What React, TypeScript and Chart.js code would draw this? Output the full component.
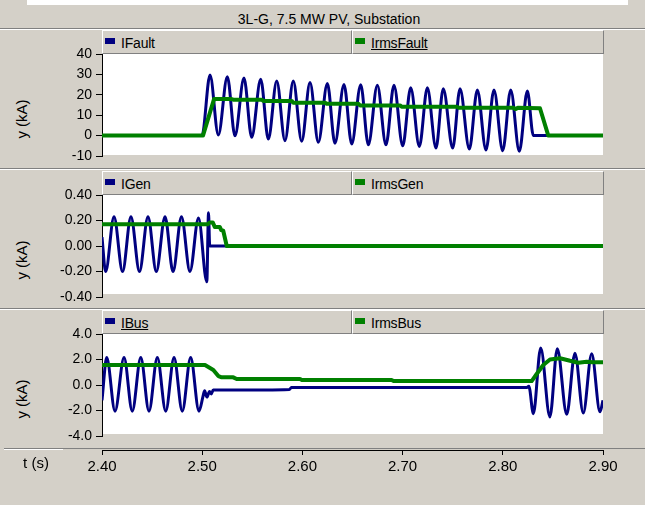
import React, { useEffect, useRef } from "react";
import { Chart, registerables } from "chart.js";

Chart.register(...registerables);

const FONT = '"Liberation Sans", Arial, Helvetica, sans-serif';
const GRAY = "#d4d0c8";
const DARK = "#808080";
const BLUE = "#000080";
const GREEN = "#008000";

const chartTitle = "3L-G, 7.5 MW PV, Substation";
const xAxisTitle = "t (s)";
const yAxisTitle = "y (kA)";
const xMin = 2.4;
const xMax = 2.9;
const xStep = 0.1;

// ---- Panel 1: fault current ----
const iFaultLabel = "IFault";
const irmsFaultLabel = "IrmsFault";
const faultYMin = -10;
const faultYMax = 40;
const faultYStep = 10;
const iFaultT = [2.4, 2.4998, 2.5078, 2.5161, 2.5251, 2.5327, 2.5417, 2.5494, 2.5584, 2.566, 2.5744, 2.5826, 2.5909, 2.5993, 2.6076, 2.6159, 2.6249, 2.6325, 2.6415, 2.6492, 2.6582, 2.6658, 2.6748, 2.6834, 2.6914, 2.7001, 2.7081, 2.7167, 2.7247, 2.7333, 2.7406, 2.75, 2.7573, 2.7666, 2.7746, 2.7832, 2.7912, 2.7999, 2.8079, 2.8165, 2.8245, 2.8305, 2.9];
const iFaultV = [0, 0, 29.7, 0.3, 28.9, -0.1, 28.2, -0.8, 27.6, -1.7, 26.8, -2.5, 26.8, -2.8, 26.0, -3.3, 25.6, -3.8, 25.1, -4.1, 24.9, -4.5, 24.7, -4.5, 24.7, -5.0, 23.5, -5.4, 23.5, -6.1, 23.0, -6.1, 23.0, -6.6, 22.4, -7.1, 22.4, -7.4, 22.4, -7.7, 21.9, 0, 0];
const irmsFaultT = [2.4, 2.5008, 2.5118, 2.5294, 2.531, 2.5594, 2.561, 2.5893, 2.5909, 2.6226, 2.6243, 2.6558, 2.6575, 2.6974, 2.699, 2.754, 2.7556, 2.8105, 2.8125, 2.815, 2.8371, 2.8454, 2.9];
const irmsFaultV = [0, 0, 17.9, 17.9, 17.6, 17.6, 17.0, 17.0, 16.1, 16.1, 15.6, 15.6, 14.8, 14.8, 14.2, 14.2, 13.7, 13.7, 13.0, 13.6, 13.4, 0, 0];

// ---- Panel 2: generator current ----
const iGenLabel = "IGen";
const irmsGenLabel = "IrmsGen";
const genYMin = -0.4;
const genYMax = 0.4;
const genYStep = 0.2;
const iGenT = [2.4, 2.4036, 2.412, 2.4205, 2.4289, 2.4374, 2.4459, 2.4542, 2.4629, 2.4709, 2.4793, 2.4878, 2.4963, 2.5046, 2.5063, 2.5075, 2.9];
const iGenV = [0.07, -0.2, 0.23, -0.2, 0.23, -0.2, 0.23, -0.2, 0.23, -0.2, 0.23, -0.2, 0.22, -0.28, 0.26, 0.0, 0.0];
const irmsGenT = [2.4, 2.5055, 2.5075, 2.5105, 2.5125, 2.5175, 2.519, 2.521, 2.5245, 2.9];
const irmsGenV = [0.17, 0.17, 0.185, 0.185, 0.15, 0.15, 0.125, 0.12, 0.0, 0.0];

// ---- Panel 3: bus current ----
const iBusLabel = "IBus";
const irmsBusLabel = "IrmsBus";
const busYMin = -4;
const busYMax = 4;
const busYStep = 2;
const iBusT = [2.4, 2.4047, 2.413, 2.422, 2.4302, 2.4387, 2.4469, 2.4552, 2.4636, 2.4719, 2.4801, 2.4885, 2.4968, 2.5008, 2.5024, 2.5047, 2.5073, 2.509, 2.511, 2.53, 2.587, 2.589, 2.824, 2.826, 2.8305, 2.8378, 2.847, 2.8544, 2.8638, 2.872, 2.8803, 2.8887, 2.897, 2.9];
const iBusV = [-1.2, 2.15, -2.05, 2.15, -2.05, 2.15, -2.05, 2.15, -2.05, 2.15, -2.05, 2.15, -2.05, -0.9, -0.45, -0.95, -0.5, -0.7, -0.4, -0.4, -0.35, -0.2, -0.2, -0.1, -2.25, 2.9, -2.5, 2.85, -2.3, 2.5, -2.2, 2.45, -2.1, -1.2];
const irmsBusT = [2.4, 2.5028, 2.5111, 2.5161, 2.5195, 2.531, 2.5344, 2.5976, 2.5995, 2.689, 2.691, 2.8288, 2.8338, 2.8404, 2.8471, 2.8571, 2.8671, 2.8754, 2.8837, 2.89, 2.9];
const irmsBusV = [1.57, 1.57, 1.18, 0.7, 0.6, 0.6, 0.47, 0.47, 0.39, 0.39, 0.31, 0.31, 0.86, 1.57, 2.0, 2.1, 1.9, 1.75, 1.83, 1.78, 1.78];

// ---- layout ----
const W = 645;
const H = 505;
const PLOT_LEFT = 102;
const PLOT_RIGHT = 603;
const PAD = 14;

type Panel = {
  top: number;
  bottom: number;
  inset: number;
  min: number;
  max: number;
  step: number;
  dec: number;
  blueLabel: string;
  greenLabel: string;
  blueUnderline: boolean;
  greenUnderline: boolean;
  blueT: number[];
  blueV: number[];
  greenT: number[];
  greenV: number[];
};

const panels: Panel[] = [
  { top: 54, bottom: 156, inset: 1, min: faultYMin, max: faultYMax, step: faultYStep, dec: 0, blueLabel: iFaultLabel, greenLabel: irmsFaultLabel, blueUnderline: false, greenUnderline: true, blueT: iFaultT, blueV: iFaultV, greenT: irmsFaultT, greenV: irmsFaultV },
  { top: 195, bottom: 297, inset: 3, min: genYMin, max: genYMax, step: genYStep, dec: 2, blueLabel: iGenLabel, greenLabel: irmsGenLabel, blueUnderline: false, greenUnderline: false, blueT: iGenT, blueV: iGenV, greenT: irmsGenT, greenV: irmsGenV },
  { top: 334, bottom: 436, inset: 2, min: busYMin, max: busYMax, step: busYStep, dec: 1, blueLabel: iBusLabel, greenLabel: irmsBusLabel, blueUnderline: true, greenUnderline: false, blueT: iBusT, blueV: iBusV, greenT: irmsBusT, greenV: irmsBusV },
];

const pts = (t: number[], v: number[]) => t.map((x, i) => ({ x, y: v[i] }));

function PanelChart({ p }: { p: Panel }) {
  const ref = useRef<HTMLCanvasElement>(null);
  const h = p.bottom - p.top + 2 * PAD;
  useEffect(() => {
    const bg = {
      id: "plotBg",
      beforeDraw(chart: any) {
        const { ctx, chartArea: a } = chart;
        ctx.save();
        ctx.fillStyle = "#ffffff";
        ctx.fillRect(a.left, a.top, a.right - a.left, a.bottom - a.top - p.inset);
        ctx.restore();
      },
    };
    const chart = new Chart(ref.current as HTMLCanvasElement, {
      type: "line",
      data: {
        datasets: [
          {
            label: p.greenLabel,
            data: pts(p.greenT, p.greenV),
            borderColor: GREEN,
            backgroundColor: GREEN,
            borderWidth: 4,
            pointRadius: 0,
            tension: 0,
            order: 0,
            borderJoinStyle: "round",
          },
          {
            label: p.blueLabel,
            data: pts(p.blueT, p.blueV),
            borderColor: BLUE,
            backgroundColor: BLUE,
            borderWidth: 3,
            pointRadius: 0,
            cubicInterpolationMode: "monotone",
            order: 1,
            borderJoinStyle: "round",
          },
        ],
      },
      options: {
        animation: false,
        responsive: false,
        maintainAspectRatio: false,
        events: [],
        layout: { padding: { top: PAD, bottom: PAD, left: 0, right: W - PLOT_RIGHT } },
        plugins: { legend: { display: false }, tooltip: { enabled: false }, title: { display: false } },
        scales: {
          x: { type: "linear", min: xMin, max: xMax, display: false },
          y: {
            type: "linear",
            min: p.min,
            max: p.max,
            afterFit: (s: any) => {
              s.width = PLOT_LEFT;
            },
            ticks: {
              stepSize: p.step,
              color: "#000",
              font: { family: FONT, size: 14 },
              padding: 4,
              callback: (v: any) => Number(v).toFixed(p.dec),
            },
            grid: { drawOnChartArea: false, drawTicks: true, tickLength: 6, color: "#000", lineWidth: 1 },
            border: { display: true, color: "#000", width: 1 },
          },
        },
      } as any,
      plugins: [bg],
    });
    return () => chart.destroy();
  }, []);
  return (
    <canvas
      ref={ref}
      width={W}
      height={h}
      style={{ position: "absolute", left: 0, top: p.top - PAD, width: W, height: h, display: "block" }}
    />
  );
}

const AXIS_TOP = 440;
const AXIS_Y = 450;
const AXIS_H = 50;

function XAxisChart() {
  const ref = useRef<HTMLCanvasElement>(null);
  useEffect(() => {
    const chart = new Chart(ref.current as HTMLCanvasElement, {
      type: "line",
      data: { datasets: [] },
      options: {
        animation: false,
        responsive: false,
        maintainAspectRatio: false,
        events: [],
        layout: { padding: { top: 0, bottom: 0, left: PLOT_LEFT, right: W - PLOT_RIGHT } },
        plugins: { legend: { display: false }, tooltip: { enabled: false } },
        scales: {
          x: {
            type: "linear",
            position: "bottom",
            min: xMin,
            max: xMax,
            afterFit: (s: any) => {
              s.height = AXIS_H - (AXIS_Y - AXIS_TOP);
            },
            ticks: {
              stepSize: xStep,
              autoSkip: false,
              maxRotation: 0,
              color: "#000",
              font: { family: FONT, size: 15 },
              padding: 3,
              callback: (v: any) => Number(v).toFixed(2),
            },
            grid: { drawOnChartArea: false, drawTicks: true, tickLength: 5, color: "#000" },
            border: { display: true, color: "#000", width: 1 },
          },
          y: { display: false, min: 0, max: 1 },
        },
      } as any,
    });
    return () => chart.destroy();
  }, []);
  return (
    <canvas
      ref={ref}
      width={W}
      height={AXIS_H}
      style={{ position: "absolute", left: 0, top: AXIS_TOP, width: W, height: AXIS_H, display: "block" }}
    />
  );
}

function Line({ x, y, w, h, c }: { x: number; y: number; w: number; h: number; c: string }) {
  return <div style={{ position: "absolute", left: x, top: y, width: w, height: h, background: c }} />;
}

function LegendCell({ left, width, top, color, label, underline }: { left: number; width: number; top: number; color: string; label: string; underline: boolean }) {
  const baseline = top + 24 - 6.5;
  return (
    <>
      <div
        style={{
          position: "absolute",
          left,
          top,
          width,
          height: 24,
          boxSizing: "border-box",
          background: GRAY,
          borderTop: "1px solid #ffffff",
          borderLeft: "1px solid #ffffff",
          borderRight: `1px solid ${DARK}`,
          borderBottom: `1px solid ${DARK}`,
        }}
      />
      <div style={{ position: "absolute", left: left + 3, top: baseline - 10, width: 10, height: 6, background: color }} />
      <div
        style={{
          position: "absolute",
          left: left + 19,
          top: baseline - 11.6,
          fontSize: 14,
          lineHeight: "14px",
          whiteSpace: "nowrap",
          color: "#000",
          letterSpacing: "-0.2px",
          textDecoration: underline ? "underline" : "none",
        }}
      >
        {label}
      </div>
    </>
  );
}

function YTitle({ cy }: { cy: number }) {
  return (
    <div
      style={{
        position: "absolute",
        left: 21,
        top: cy,
        transform: "translate(-50%, -50%) rotate(-90deg)",
        fontSize: 15,
        lineHeight: "15px",
        whiteSpace: "nowrap",
        color: "#000",
      }}
    >
      {yAxisTitle}
    </div>
  );
}

export default function App() {
  return (
    <div
      style={{
        position: "fixed",
        left: 0,
        top: 0,
        width: W,
        height: H,
        overflow: "hidden",
        background: GRAY,
        fontFamily: FONT,
      }}
    >
      <Line x={27} y={0} w={601} h={5} c="#ffffff" />
      <div
        style={{
          position: "absolute",
          left: 329,
          top: 12,
          transform: "translateX(-50%)",
          fontSize: 14,
          lineHeight: "14px",
          whiteSpace: "nowrap",
          color: "#000",
        }}
      >
        {chartTitle}
      </div>
      <Line x={0} y={28} w={W} h={1} c={DARK} />
      <Line x={0} y={29} w={W} h={1} c="#ffffff" />
      <Line x={0} y={168} w={W} h={1} c={DARK} />
      <Line x={0} y={169} w={W} h={1} c="#ffffff" />
      <Line x={0} y={308} w={W} h={1} c={DARK} />
      <Line x={0} y={309} w={W} h={1} c="#ffffff" />
      <Line x={4} y={448} w={W - 4} h={1} c={DARK} />
      <Line x={4} y={449} w={59} h={1} c="#ffffff" />

      {panels.map((p, i) => (
        <React.Fragment key={i}>
          <LegendCell left={PLOT_LEFT} width={250} top={p.top - 24} color={BLUE} label={p.blueLabel} underline={p.blueUnderline} />
          <LegendCell left={352} width={PLOT_RIGHT - 352 + 1} top={p.top - 24} color={GREEN} label={p.greenLabel} underline={p.greenUnderline} />
          <YTitle cy={(p.top + p.bottom) / 2 + 14} />
          <PanelChart p={p} />
        </React.Fragment>
      ))}

      <XAxisChart />
      <div
        style={{
          position: "absolute",
          left: 36,
          top: 462,
          transform: "translate(-50%, -50%)",
          fontSize: 15,
          lineHeight: "15px",
          whiteSpace: "nowrap",
          color: "#000",
        }}
      >
        {xAxisTitle}
      </div>
    </div>
  );
}
